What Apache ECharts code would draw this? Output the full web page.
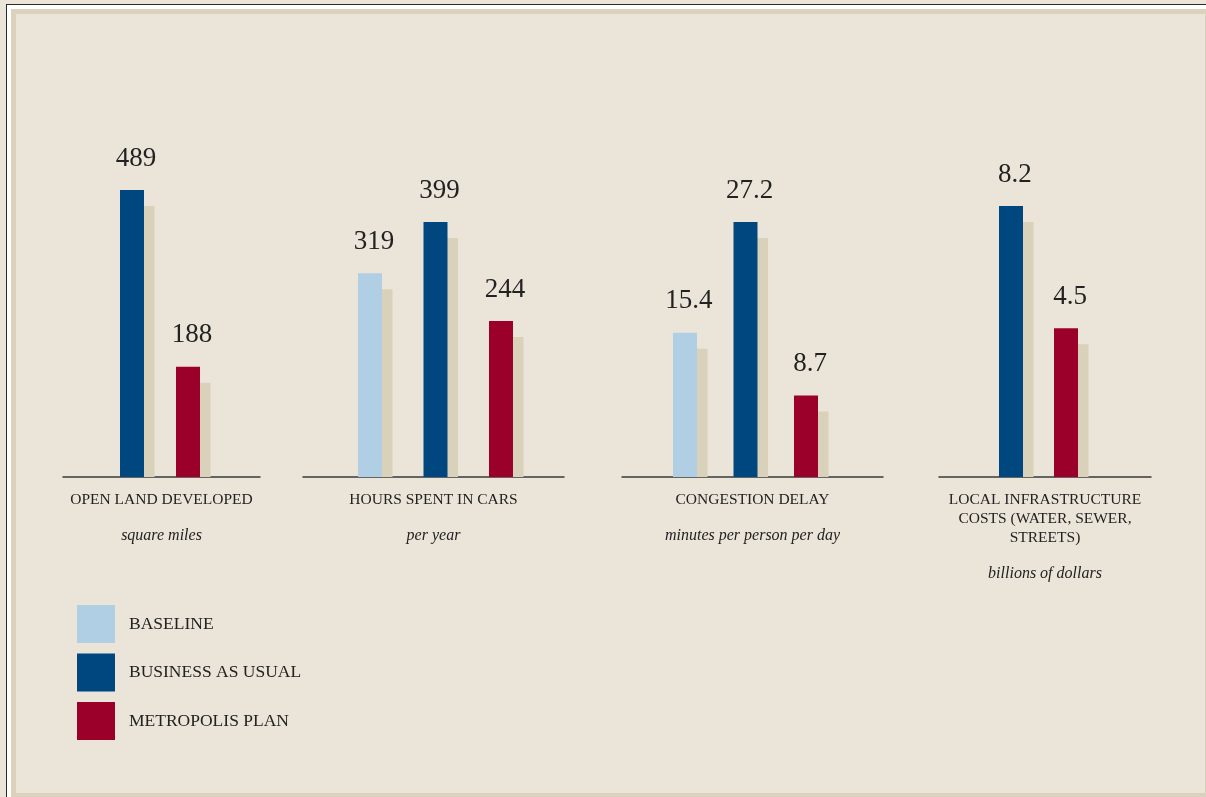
<!DOCTYPE html>
<html>
<head>
<meta charset="utf-8">
<script src="https://cdn.jsdelivr.net/npm/echarts@6/dist/echarts.min.js"></script>
<style>
  html, body { margin: 0; padding: 0; background: #EBE5D9; }
  #chart { width: 1206px; height: 797px; }
</style>
</head>
<body>
<div id="chart"></div>
<script>
// ---- data ----
const categories = ['OPEN LAND DEVELOPED', 'HOURS SPENT IN CARS', 'CONGESTION DELAY', 'LOCAL INFRASTRUCTURE\nCOSTS (WATER, SEWER,\nSTREETS)'];
const units = ['square miles', 'per year', 'minutes per person per day', 'billions of dollars'];
const scenarios = ['BASELINE', 'BUSINESS AS USUAL', 'METROPOLIS PLAN'];
const baseline = [null, 319, 15.4, null];
const businessAsUsual = [489, 399, 27.2, 8.2];
const metropolisPlan = [188, 244, 8.7, 4.5];

// ---- styling / layout ----
const scenarioColors = ['#B0CEE4', '#00467F', '#9B002A'];
const shadowColor = '#DAD1BA';
const FONT = 'Liberation Serif';
const BASE_Y = 477;
const BAR_W = 24;
const SHADOW_DX = 10.5, SHADOW_DY = 16;
const axisSpans = [[63, 197], [303, 261], [622, 261], [939, 212]];
const groupCenters = [160, 435.5, 745.5, 1038.5];
const gapPx = [32, 41.5, 36.5, 31];
const tallestPx = [287, 255, 255, 271];

const seriesValues = [baseline, businessAsUsual, metropolisPlan];

const grids = [], xAxes = [], yAxes = [], series = [];

// display grids (axis line + labels)
categories.forEach((cat, p) => {
  grids.push({ left: axisSpans[p][0], width: axisSpans[p][1], top: 100, height: BASE_Y - 100 });
  xAxes.push({
    gridIndex: p, type: 'category', data: [cat],
    axisLine: { show: true, lineStyle: { color: '#3a3a3a', width: 1.5 } },
    axisTick: { show: false },
    axisLabel: {
      interval: 0, margin: 13,
      formatter: (v) => v.split('\n').map(l => '{c|' + l + '}').join('\n') + '\n{s|' + units[p] + '}',
      rich: {
        c: { fontFamily: FONT, fontSize: 15.5, color: '#222', lineHeight: 19, align: 'center' },
        s: { fontFamily: FONT, fontSize: 16, fontStyle: 'italic', color: '#222', lineHeight: 54, align: 'center' }
      }
    }
  });
  yAxes.push({ gridIndex: p, type: 'value', show: false, min: 0, max: 1, splitLine: { show: false } });
});

// bar grids
categories.forEach((cat, p) => {
  const g = grids.length;
  grids.push({ left: groupCenters[p] - 90, width: 180, top: BASE_Y - tallestPx[p], height: tallestPx[p] });
  xAxes.push({ gridIndex: g, type: 'category', data: [cat], show: false });
  yAxes.push({ gridIndex: g, type: 'value', show: false, min: 0, max: 'dataMax', splitLine: { show: false } });

  const present = [];
  seriesValues.forEach((arr, s) => { if (arr[p] != null) present.push(s); });
  const n = present.length;
  const gapRatio = (gapPx[p] / BAR_W * 100).toFixed(1) + '%';

  // shadow bars
  series.push({
    type: 'custom', xAxisIndex: g, yAxisIndex: g, z: 1, silent: true,
    encode: { x: 0, y: 1 },
    data: present.map((s, i) => [0, seriesValues[s][p], i, n]),
    renderItem: (params, api) => {
      const top = api.coord([0, api.value(1)]);
      const base = api.coord([0, 0]);
      const i = api.value(2), cnt = api.value(3);
      const cx = top[0] + (i - (cnt - 1) / 2) * (BAR_W + gapPx[p]);
      return {
        type: 'rect',
        shape: { x: cx - BAR_W / 2 + SHADOW_DX, y: top[1] + SHADOW_DY, width: BAR_W, height: base[1] - top[1] - SHADOW_DY },
        style: { fill: shadowColor }
      };
    }
  });

  present.forEach((s) => {
    series.push({
      type: 'bar', name: scenarios[s], xAxisIndex: g, yAxisIndex: g, z: 3,
      barWidth: BAR_W, barGap: gapRatio,
      itemStyle: { color: scenarioColors[s] },
      data: [seriesValues[s][p]],
      label: {
        show: true, position: 'top', distance: 18, offset: [4, 0],
        fontFamily: FONT, fontSize: 27, color: '#222'
      }
    });
  });
});

const option = {
  backgroundColor: '#EBE5D9',
  animation: false,
  graphic: [
    { type: 'rect', z: -10, silent: true, shape: { x: 6, y: 4, width: 1400, height: 900 }, style: { fill: '#2a2a2a' } },
    { type: 'rect', z: -10, silent: true, shape: { x: 7, y: 5, width: 1400, height: 900 }, style: { fill: '#ffffff' } },
    { type: 'rect', z: -10, silent: true, shape: { x: 11, y: 9, width: 1400, height: 900 }, style: { fill: '#DAD2BC' } },
    { type: 'rect', z: -10, silent: true, shape: { x: 16, y: 14, width: 1189, height: 779 }, style: { fill: '#EBE5D9' } }
  ],
  legend: {
    data: scenarios, orient: 'vertical', left: 77, top: 605, padding: 0,
    itemWidth: 38, itemHeight: 38, itemGap: 10.5, icon: 'rect', selectedMode: false,
    textStyle: { fontFamily: FONT, fontSize: 17.5, color: '#222', padding: [0, 0, 0, 9] }
  },
  grid: grids, xAxis: xAxes, yAxis: yAxes, series: series
};

const chart = echarts.init(document.getElementById('chart'), null, { renderer: 'canvas' });
chart.setOption(option);
</script>
</body>
</html>
